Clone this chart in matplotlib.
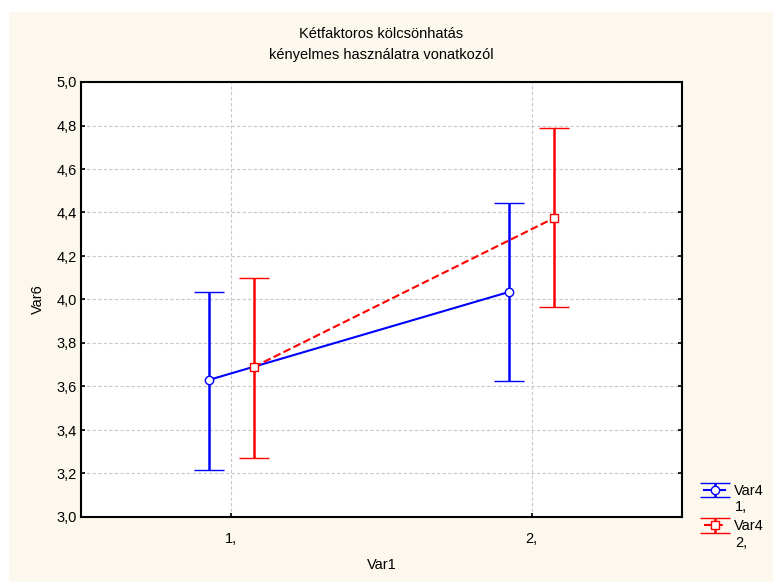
import matplotlib.pyplot as plt
from matplotlib.patches import Rectangle

plt.rcParams["font.family"] = ["Liberation Sans", "DejaVu Sans"]

# Data
var1_levels = [1, 2]
var1_labels = ["1,", "2,"]
group_names = ["Var4", "Var4"]
group_levels = ["1,", "2,"]
group_offsets = [-0.075, 0.075]
means = [[3.63, 4.035], [3.69, 4.375]]
upper = [[4.034, 4.444], [4.099, 4.789]]
lower = [[3.216, 3.625], [3.271, 3.966]]
colors = ["#0000ff", "#ff0000"]
markers = ["o", "s"]
linestyles = ["-", "--"]
yticks = [3.0, 3.2, 3.4, 3.6, 3.8, 4.0, 4.2, 4.4, 4.6, 4.8, 5.0]

FS = 10.5

fig = plt.figure(figsize=(7.73, 5.82), dpi=100)
fig.patch.set_facecolor("white")
# cream background panel
fig.patches.append(Rectangle((9 / 773, 0), 1 - 9 / 773, 570 / 582,
                             transform=fig.transFigure, facecolor="#fdf8ee",
                             edgecolor="none", zorder=-10))

ax = fig.add_axes([81 / 773, 65 / 582, 601 / 773, 435 / 582])
ax.set_facecolor("white")

handles = []
for i in range(2):
    xs = [v + group_offsets[i] for v in var1_levels]
    yerr = [[m - lo for m, lo in zip(means[i], lower[i])],
            [up - m for m, up in zip(means[i], upper[i])]]
    eb = ax.errorbar(xs, means[i], yerr=yerr, color=colors[i],
                     linestyle=linestyles[i], linewidth=1.5,
                     marker=markers[i], markersize=6,
                     markerfacecolor="white", markeredgecolor=colors[i],
                     markeredgewidth=1.0, capsize=11, capthick=1.8,
                     elinewidth=1.8, zorder=3)
    handles.append(eb)

ax.set_xlim(0.5, 2.5)
ax.set_ylim(3.0, 5.0)
ax.set_xticks(var1_levels)
ax.set_xticklabels(var1_labels)
ax.set_yticks(yticks)
ax.set_yticklabels([f"{t:.1f}".replace(".", ",") for t in yticks])
ax.tick_params(direction="in", length=3, width=1.2, labelsize=FS,
               right=True, top=False)
ax.tick_params(axis="x", pad=11)
ax.tick_params(axis="y", pad=3)
ax.grid(True, color="#c8c8c8", linestyle=(0, (3, 2)), linewidth=0.8)
for sp in ax.spines.values():
    sp.set_linewidth(1.5)
    sp.set_color("black")

ax.set_xlabel("Var1", fontsize=FS, labelpad=8.5)
ax.set_ylabel("Var6", fontsize=FS, labelpad=8)

cx = 0.5 * (81 + 682) / 773
fig.text(cx, 1 - 34 / 582, "Kétfaktoros kölcsönhatás",
         ha="center", va="center", fontsize=FS)
fig.text(cx, 1 - 55 / 582, "kényelmes használatra vonatkozól",
         ha="center", va="center", fontsize=FS)

fig.legend(handles, group_names, loc="upper left",
           bbox_to_anchor=(694 / 773, 1 - 474 / 582), frameon=False,
           fontsize=FS, handlelength=1.45, handletextpad=0.6,
           labelspacing=1.45, borderpad=0.2)
for i, lev in enumerate(group_levels):
    fig.text(735 / 773, 1 - (507 + 36 * i) / 582, lev,
             ha="left", va="center", fontsize=FS)

fig.savefig("out.png", dpi=100, facecolor=fig.get_facecolor())
